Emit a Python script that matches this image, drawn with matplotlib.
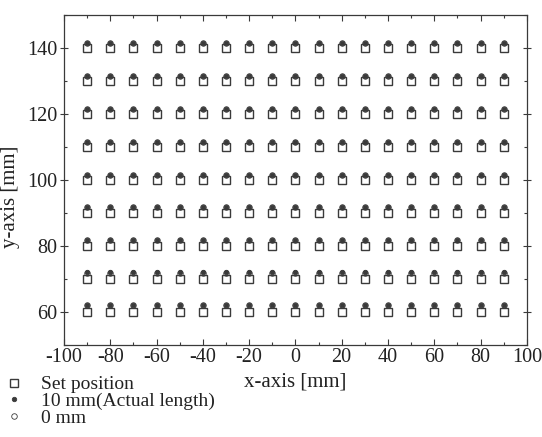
import numpy as np
import matplotlib.pyplot as plt
from matplotlib.ticker import MultipleLocator

plt.rcParams['font.family'] = ['Liberation Serif', 'DejaVu Serif']
plt.rcParams['axes.unicode_minus'] = False

# set positions of the grid [mm]
x_set = [-90, -80, -70, -60, -50, -40, -30, -20, -10, 0, 10, 20, 30, 40, 50, 60, 70, 80, 90]
y_set = [60, 70, 80, 90, 100, 110, 120, 130, 140]

# measured y offset of each row [mm]
dy_10mm = [2.2, 2.1, 1.9, 1.8, 1.6, 1.6, 1.5, 1.5, 1.5]
dy_0mm = [2.0, 1.9, 1.8, 1.7, 1.5, 1.5, 1.4, 1.4, 1.4]

X, Y = np.meshgrid(x_set, y_set)
Y10 = Y + np.array(dy_10mm)[:, None]
Y0 = Y + np.array(dy_0mm)[:, None]

fig = plt.figure(figsize=(5.42, 4.37), dpi=100)
ax = fig.add_axes([0.118, 0.211, 0.854, 0.755])

c = '#3a3a3a'
h1, = ax.plot(X.ravel(), Y.ravel(), ls='none', marker='s', ms=6, mfc='none', mec=c, mew=1.0,
              label='Set position')
h2, = ax.plot(X.ravel(), Y10.ravel(), ls='none', marker='o', ms=3.2, mfc=c, mec=c, mew=0.6,
              label='10 mm(Actual length)')
h3, = ax.plot(X.ravel(), Y0.ravel(), ls='none', marker='o', ms=4, mfc='none', mec=c, mew=0.6,
              label='0 mm')

ax.set_xlim(-100, 100)
ax.set_ylim(50, 150)
ax.xaxis.set_major_locator(MultipleLocator(20))
ax.xaxis.set_minor_locator(MultipleLocator(10))
ax.yaxis.set_minor_locator(MultipleLocator(10))
ax.set_yticks([60, 80, 100, 120, 140])
ax.tick_params(which='both', direction='in', top=True, right=True, colors=c, labelcolor='#222222',
               labelsize=14.5)
ax.tick_params(which='major', length=4, width=0.8, pad=2)
ax.tick_params(which='minor', length=2.5, width=0.8)
ax.tick_params(axis='y', which='major', direction='inout', length=6)
for s in ax.spines.values():
    s.set_color(c)
    s.set_linewidth(0.9)

ax.set_xlabel('x-axis [mm]', fontsize=15, color='#222222')
ax.xaxis.set_label_coords(0.5, -0.085)
ax.set_ylabel('y-axis [mm]', fontsize=15, color='#222222')
ax.yaxis.set_label_coords(-0.094, 0.45)

fig.legend(handles=[h1, h2, h3], loc='upper left', bbox_to_anchor=(-0.006, 0.158), frameon=False,
           fontsize=14, handlelength=1.0, handletextpad=0.9, labelspacing=-0.05,
           borderaxespad=0.0, labelcolor='#222222')

fig.savefig('out.png', dpi=100)
